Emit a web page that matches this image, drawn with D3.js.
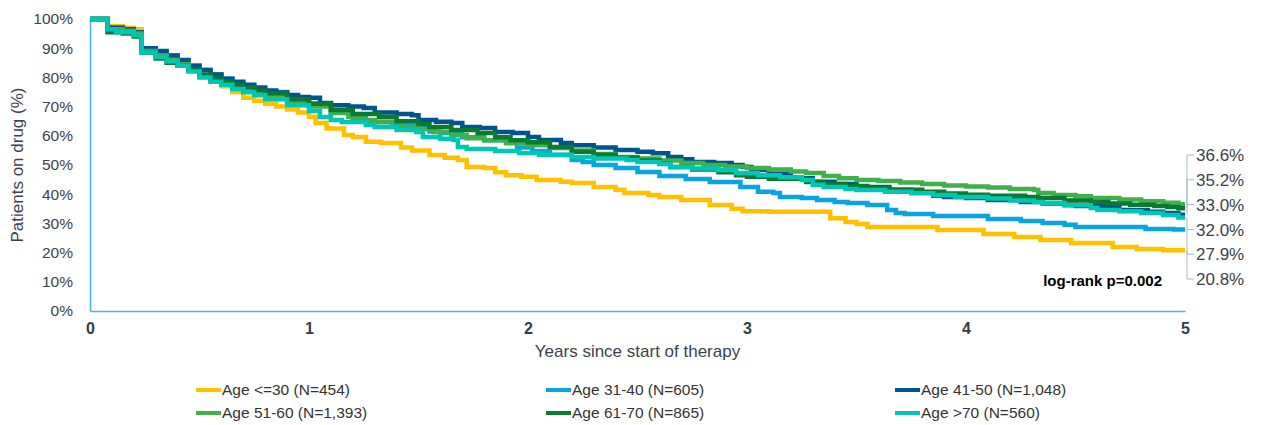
<!DOCTYPE html>
<html>
<head>
<meta charset="utf-8">
<script src="https://cdnjs.cloudflare.com/ajax/libs/d3/7.8.5/d3.min.js"></script>
<style>
	body { margin: 0; background: #fff; }
	svg { display: block; font-family: "Liberation Sans", Arial, sans-serif; }
	.tick-y { font-size: 15.5px; fill: #3a434d; }
	.tick-x { font-size: 16px; font-weight: bold; fill: #333d47; }
	.axis-title { font-size: 17px; fill: #3a434d; }
	.legend text { font-size: 15.5px; fill: #333; }
	.end-label { font-size: 17px; fill: #3a434d; }
	.km { fill: none; stroke-width: 4.5; }
</style>
</head>
<body>
<svg></svg>
<script>
// series names and colours (legend order)
const seriesNames = ['Age <=30 (N=454)', 'Age 31-40 (N=605)', 'Age 41-50 (N=1,048)',
	'Age 51-60 (N=1,393)', 'Age 61-70 (N=865)', 'Age >70 (N=560)'];
const seriesColors = ['#ffc000', '#0aa5e1', '#00568c', '#3fb04a', '#0b7a30', '#00c6b3'];

const yTicks = [0, 10, 20, 30, 40, 50, 60, 70, 80, 90, 100];
const xTicks = [0, 1, 2, 3, 4, 5];

// [years, % on drug]
const age30 = [[0,100],[0.08,97.5],[0.15,97],[0.2,96.5],[0.236,89.5],[0.3,88],[0.35,86],[0.4,84],[0.45,82.5],[0.5,80.5],[0.55,79],[0.6,77],[0.65,75],[0.7,73],[0.75,72],[0.8,71],[0.85,70],[0.9,69],[0.95,68],[1.0,66.5],[1.03,64.4],[1.08,62.5],[1.16,60.3],[1.2,59.6],[1.26,58],[1.33,57.5],[1.42,56],[1.47,55],[1.55,53.4],[1.62,52.5],[1.68,51.7],[1.72,49.3],[1.8,49],[1.85,47.5],[1.9,46.5],[1.97,46],[2.04,44.9],[2.15,44.3],[2.2,43.8],[2.3,42.5],[2.4,41.5],[2.44,40.4],[2.55,39.7],[2.6,39],[2.7,38],[2.83,36.3],[2.93,35],[2.98,34.2],[3.1,34],[3.38,31.8],[3.45,30.5],[3.5,29.8],[3.55,28.8],[3.87,27.7],[4.08,26.4],[4.22,25.3],[4.34,24.3],[4.48,23.3],[4.67,21.9],[4.78,21.2],[4.9,20.8],[5,20.8]];
const age31 = [[0,100],[0.08,97],[0.15,96.5],[0.2,95.5],[0.236,90],[0.3,88.5],[0.35,87.5],[0.4,85.5],[0.45,84],[0.5,82.5],[0.55,81],[0.6,79.5],[0.65,78],[0.7,77],[0.75,76],[0.8,75],[0.9,73],[1.0,71],[1.1,68],[1.2,66],[1.26,64.7],[1.38,63.5],[1.49,62.7],[1.55,61.5],[1.6,61],[1.7,59.5],[1.8,58.5],[1.9,57.5],[1.95,56],[2.02,54.8],[2.1,53.4],[2.2,51.7],[2.25,51],[2.3,50],[2.4,49],[2.5,47.6],[2.6,46.2],[2.72,45.2],[2.83,44.2],[2.97,42.5],[3.05,40.8],[3.12,40.4],[3.15,39],[3.25,38.7],[3.32,38],[3.4,37.3],[3.46,37],[3.55,36.3],[3.64,34.6],[3.68,33.6],[3.72,33.2],[3.85,32.5],[4.1,31.5],[4.25,30.8],[4.35,30.1],[4.45,29.5],[4.5,28.8],[4.82,28.1],[4.95,27.9],[5,27.9]];
const age41 = [[0,100],[0.08,97],[0.15,96.5],[0.2,95.5],[0.236,90],[0.3,89],[0.35,87.5],[0.4,86],[0.45,84],[0.5,82.5],[0.55,81],[0.6,79.5],[0.65,78.5],[0.7,77.5],[0.75,76.5],[0.8,75.5],[0.85,74.8],[0.9,74],[0.95,73.3],[1.0,73],[1.05,71.2],[1.1,70.5],[1.18,70],[1.25,69.5],[1.3,68],[1.4,67.5],[1.47,67],[1.5,65.4],[1.58,64.8],[1.65,64.4],[1.7,63],[1.78,62.7],[1.85,61.3],[1.93,61],[2.0,59.6],[2.05,58.6],[2.15,57.5],[2.2,56.8],[2.3,56],[2.4,55.1],[2.5,54.5],[2.57,54],[2.64,52.7],[2.7,52],[2.75,51],[2.85,50.7],[2.93,50],[2.98,49.3],[3.02,48.3],[3.1,47],[3.2,45.5],[3.3,44.3],[3.4,43.5],[3.5,42.5],[3.65,41.5],[3.75,40.5],[3.85,39.5],[3.9,39],[4.0,38.7],[4.1,38],[4.25,37.3],[4.35,36.8],[4.45,36.3],[4.5,36],[4.63,35.6],[4.7,34.6],[4.83,34],[4.9,33.6],[4.97,33.0],[5,33.0]];
const age51 = [[0,100],[0.08,96.5],[0.15,96],[0.2,95],[0.236,89],[0.3,87.5],[0.35,86],[0.4,84.5],[0.45,82.5],[0.5,80.5],[0.55,79],[0.6,77.5],[0.65,76],[0.7,75],[0.75,74],[0.8,73],[0.9,71.5],[1.0,70],[1.1,67.8],[1.18,66.5],[1.25,65.4],[1.3,64.7],[1.42,63],[1.5,62.3],[1.57,61.3],[1.65,60.3],[1.72,59.2],[1.8,58.5],[1.9,57.5],[2.0,56.8],[2.1,55.8],[2.2,55],[2.3,53.8],[2.4,52.7],[2.5,52.2],[2.6,51.5],[2.7,50.7],[2.8,50],[2.9,49.5],[3.0,49],[3.1,48.5],[3.2,47.8],[3.27,47.3],[3.35,46.2],[3.42,45.5],[3.5,44.9],[3.6,44.5],[3.7,44],[3.8,43.5],[3.9,43],[4.0,42.6],[4.1,42.3],[4.2,41.8],[4.31,41.4],[4.33,40.4],[4.4,39.7],[4.5,39.3],[4.57,38.7],[4.7,38.2],[4.8,37.6],[4.9,37.1],[4.97,36.6],[5,36.6]];
const age61 = [[0,100],[0.08,95.5],[0.15,95],[0.2,94],[0.236,88.5],[0.3,86.5],[0.35,85],[0.4,84],[0.45,82.5],[0.5,81],[0.55,79.5],[0.6,78.5],[0.65,77.5],[0.7,76.5],[0.75,75.5],[0.8,74.5],[0.9,72.5],[1.0,71],[1.1,68.8],[1.2,67.5],[1.32,66.4],[1.4,65],[1.5,64],[1.55,63],[1.65,62],[1.77,61],[1.85,59.5],[1.92,58.5],[2.0,57.8],[2.1,56.2],[2.2,54.5],[2.3,53.5],[2.4,52.5],[2.5,51.5],[2.6,50.5],[2.65,49.3],[2.75,48.5],[2.87,47.5],[2.95,46.5],[3.0,46],[3.1,45.3],[3.27,44.2],[3.35,43.5],[3.45,42.8],[3.55,42.1],[3.65,41.5],[3.8,40.8],[3.9,40.2],[4.0,39.8],[4.1,39.5],[4.27,39],[4.33,38.7],[4.45,37.8],[4.57,37.3],[4.65,36.8],[4.75,36.4],[4.86,36],[4.92,35.6],[4.97,35.2],[5,35.2]];
const age70 = [[0,100],[0.08,96.5],[0.12,95.5],[0.2,94.5],[0.236,88.5],[0.3,87],[0.35,85.5],[0.4,84],[0.45,82],[0.5,80],[0.55,78.5],[0.6,77.5],[0.65,76],[0.7,75],[0.75,74],[0.8,72.5],[0.9,70.5],[1.0,68.5],[1.05,66.4],[1.1,65.4],[1.15,64.7],[1.26,63.7],[1.3,63],[1.4,62],[1.49,61.3],[1.52,59.6],[1.6,59],[1.66,58.6],[1.68,56.2],[1.72,55.5],[1.85,54.8],[1.96,54.1],[2.05,53.5],[2.2,52.7],[2.3,52.2],[2.45,51.7],[2.5,51],[2.6,50.3],[2.65,49.3],[2.75,48.8],[2.87,48.3],[2.95,47.3],[3.05,46.5],[3.15,45.8],[3.25,44.9],[3.3,43.2],[3.35,42.5],[3.45,41.8],[3.5,41.4],[3.63,40.8],[3.75,40.3],[3.85,39.7],[3.95,39],[4.1,38.5],[4.2,37.8],[4.31,37.3],[4.35,37],[4.45,36.2],[4.57,35.3],[4.6,34.6],[4.7,34.2],[4.8,33.6],[4.9,32.9],[4.97,32.0],[5,32.0]];

const seriesData = [age30, age31, age41, age51, age61, age70];

function renderChart() {
	const margin = { top: 19, right: 77, bottom: 114, left: 90 };
	const width = 1262 - margin.left - margin.right;
	const height = 425 - margin.top - margin.bottom;
	const axisColor = '#45b5e6';

	const svg = d3.select('body').select('svg')
		.attr('width', 1262)
		.attr('height', 425);

	const g = svg.append('g')
		.attr('class', 'main-group')
		.attr('transform', 'translate(' + margin.left + ',' + margin.top + ')');

	const xScale = d3.scaleLinear().domain([0, 5]).range([0, width]);
	const yScale = d3.scaleLinear().domain([0, 100]).range([height, 0]);

	// y axis
	const yAxis = g.append('g')
		.call(d3.axisLeft(yScale).tickValues(yTicks).tickSize(0).tickPadding(17).tickFormat(d => d + '%'));
	yAxis.select('.domain').attr('stroke', axisColor).attr('stroke-width', 1.5);
	yAxis.selectAll('text').attr('class', 'tick-y').attr('fill', null);

	// x axis
	const xAxis = g.append('g')
		.attr('transform', 'translate(0,' + height + ')')
		.call(d3.axisBottom(xScale).tickValues(xTicks).tickSize(0).tickPadding(12).tickFormat(d3.format('d')));
	xAxis.select('.domain').attr('stroke', axisColor).attr('stroke-width', 1.5);
	xAxis.selectAll('text').attr('class', 'tick-x').attr('fill', null);

	g.append('text')
		.attr('class', 'axis-title')
		.attr('x', width / 2)
		.attr('y', height + 46)
		.attr('text-anchor', 'middle')
		.text('Years since start of therapy');

	g.append('text')
		.attr('class', 'axis-title')
		.attr('transform', 'translate(' + (17 - margin.left) + ',' + (height / 2) + ') rotate(-90)')
		.attr('dy', '0.35em')
		.attr('text-anchor', 'middle')
		.text('Patients on drug (%)');

	const line = d3.line()
		.x(d => xScale(d[0]))
		.y(d => yScale(d[1]))
		.curve(d3.curveStepAfter);

	g.selectAll('.km')
		.data(seriesData)
		.enter().append('path')
		.attr('class', 'km')
		.attr('stroke', (d, i) => seriesColors[i])
		.attr('d', line);

	// end labels, stacked top to bottom by final value
	const ends = seriesData.map((d, i) => ({ i: i, v: d[d.length - 1][1] }))
		.sort((a, b) => b.v - a.v);
	const labelTop = 136;
	const labelStep = 24.8;
	const labels = g.append('g');
	ends.forEach((e, k) => {
		const ex = xScale(5) + 2;
		const ey = yScale(e.v);
		const ly = labelTop + k * labelStep;
		labels.append('path')
			.attr('d', 'M' + ex + ',' + ey + 'L' + ex + ',' + ly + 'L' + (ex + 7) + ',' + ly)
			.attr('fill', 'none')
			.attr('stroke', '#a9b8c6')
			.attr('stroke-width', 1);
		labels.append('text')
			.attr('class', 'end-label')
			.attr('x', ex + 9)
			.attr('y', ly)
			.attr('dy', '0.36em')
			.text(e.v.toFixed(1) + '%');
	});

	g.append('text')
		.attr('x', xScale(5) - 23)
		.attr('y', yScale(10.5))
		.attr('dy', '0.35em')
		.attr('text-anchor', 'end')
		.attr('font-size', '15px')
		.attr('font-weight', 'bold')
		.attr('fill', '#000')
		.text('log-rank p=0.002');

	// legend
	const legend = svg.append('g').attr('class', 'legend');
	const colX = [196, 546, 895];
	const rowY = [390, 413];
	seriesNames.forEach((name, i) => {
		const lx = colX[i % 3];
		const ly = rowY[Math.floor(i / 3)];
		legend.append('line')
			.attr('x1', lx).attr('x2', lx + 25)
			.attr('y1', ly).attr('y2', ly)
			.attr('stroke', seriesColors[i])
			.attr('stroke-width', 4);
		legend.append('text')
			.attr('x', lx + 26)
			.attr('y', ly)
			.attr('dy', '0.35em')
			.text(name);
	});
}

renderChart();
</script>
</body>
</html>
